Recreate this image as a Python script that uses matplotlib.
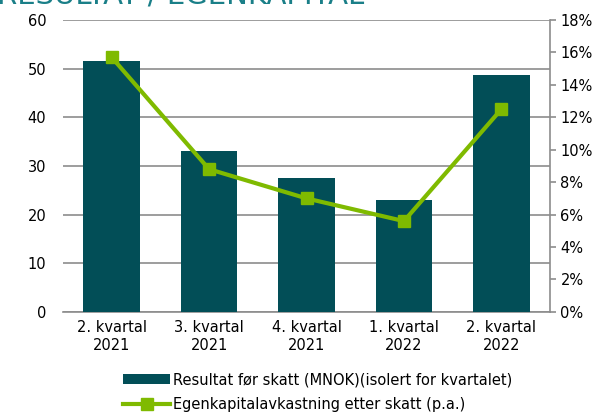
import matplotlib.pyplot as plt
from matplotlib.ticker import FuncFormatter
import numpy as np

quarters = ['2. kvartal\n2021', '3. kvartal\n2021', '4. kvartal\n2021', '1. kvartal\n2022', '2. kvartal\n2022']
resultat = [51.6, 33.0, 27.5, 23.0, 48.6]
ek_avkastning = [15.7, 8.8, 7.0, 5.6, 12.5]

bar_color = '#024e57'
line_color = '#7fba00'
grid_color = '#8c8c8c'

plt.rcParams['font.family'] = ['DejaVu Sans']

fig = plt.figure(figsize=(5.94, 4.17), dpi=100)
ax = fig.add_axes([0.106, 0.252, 0.82, 0.7])
x = np.arange(len(quarters))

ax.bar(x, resultat, width=0.58, color=bar_color, zorder=3, label='Resultat før skatt (MNOK)(isolert for kvartalet)')
ax.set_ylim(0, 60)
ax.set_yticks(range(0, 61, 10))
ax.set_xlim(-0.5, len(quarters) - 0.5)
ax.set_xticks(x)
ax.set_xticklabels(quarters, fontsize=10.5)
ax.tick_params(axis='y', labelsize=10.5, length=0, pad=12)
ax.tick_params(axis='x', length=0, pad=6)
ax.grid(axis='y', color=grid_color, linewidth=1.2, zorder=0)
for s in ['left', 'top', 'right']:
    ax.spines[s].set_visible(False)
ax.spines['bottom'].set_color(grid_color)
ax.spines['bottom'].set_linewidth(1.2)

ax2 = ax.twinx()
ax2.plot(x, ek_avkastning, color=line_color, linewidth=3, marker='s', markersize=8,
         zorder=4, label='Egenkapitalavkastning etter skatt (p.a.)')
ax2.set_ylim(0, 18)
ax2.set_yticks(range(0, 19, 2))
ax2.yaxis.set_major_formatter(FuncFormatter(lambda v, p: f'{v:.0f}%'))
ax2.tick_params(axis='y', labelsize=10.5, length=4, color=grid_color, width=1.2)
for s in ['left', 'top', 'bottom']:
    ax2.spines[s].set_visible(False)
ax2.spines['right'].set_color(grid_color)
ax2.spines['right'].set_linewidth(1.2)

h1, l1 = ax.get_legend_handles_labels()
h2, l2 = ax2.get_legend_handles_labels()
fig.legend(h1 + h2, l1 + l2, loc='lower center', bbox_to_anchor=(0.535, -0.02), ncol=1,
           frameon=False, fontsize=10.5, handlelength=3.2, handletextpad=0.2, labelspacing=0.7)

# title, cut off at the top edge as in the source image
fig.text(-0.005, 1 - 3 / 417, 'RESULTAT / EGENKAPITAL', fontsize=21, color='#1a7f88',
         ha='left', va='baseline')

fig.savefig('out.png', dpi=100)
